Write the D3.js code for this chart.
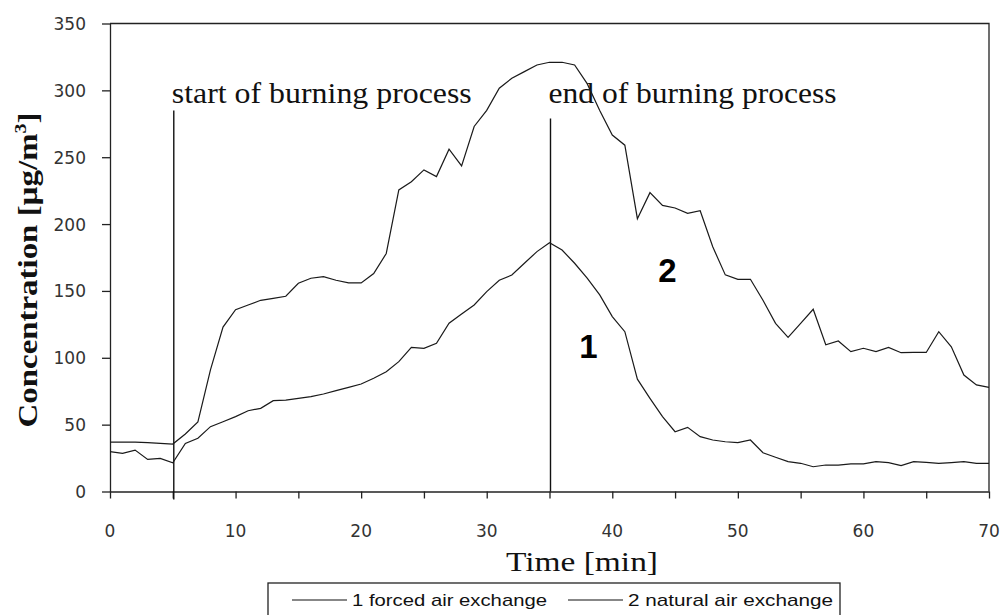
<!DOCTYPE html>
<html>
<head>
<meta charset="utf-8">
<script src="https://cdnjs.cloudflare.com/ajax/libs/d3/7.8.5/d3.min.js"></script>
<style>
	body { margin: 0; background: #fff; }
	svg { display: block; }
	.tick-label { font-family: 'DejaVu Sans', sans-serif; font-size: 17px; fill: #333; }
	.note { font-family: 'Liberation Serif', serif; font-size: 29px; fill: #111; }
</style>
</head>
<body>
<div id="chart"></div>
<script>
let width = 1001
let height = 615

// minutes 0..70
let minutes = d3.range(0, 71)

let forced = [
	29.8, 28.5, 31, 24, 24.8, 21.5, 36, 39.8, 48.5, 52.2,
	56, 60.4, 62.2, 67.9, 68.4, 69.7, 70.9, 72.9, 75.4, 77.9,
	80.4, 84.7, 89.6, 97.1, 107.8, 107.1, 110.8, 125.8, 132.8, 139.5,
	149.5, 158, 161.9, 170.7, 179.4, 186, 180.6, 170.7, 159.5, 147,
	130.8, 119.5, 84, 69.7, 56, 44.7, 48, 41, 38.5, 37.2,
	36.5, 38.5, 29, 25.6, 22.3, 21.1, 18.5, 19.8, 19.8, 20.6,
	20.6, 22.3, 21.6, 19.3, 22.3, 21.8, 21.1, 21.6, 22.3, 21.1,
	21.1
]

let natural = [
	37, 37, 37, 36.5, 36, 35.5, 43, 52, 91, 123,
	136, 139.5, 143, 144.5, 146, 155.7, 159.5, 160.7, 158, 156,
	156, 163, 178, 225.5, 231.7, 240.5, 235.5, 256, 243.5, 273,
	285, 301.6, 309, 314, 319, 321, 321, 319, 305, 285,
	266.6, 259, 204, 223.5, 214, 212, 208, 210, 183, 162,
	158.7, 158.7, 143, 125.8, 115.3, 125.8, 136.3, 109.7, 112.6, 104.6,
	107.1, 104.6, 107.8, 103.8, 104, 104, 119.5, 108.2, 87.1, 79.7,
	77.9
]

let yTicks = [0, 50, 100, 150, 200, 250, 300, 350]
let xTicks = [0, 5, 10, 15, 20, 25, 30, 35, 40, 45, 50, 55, 60, 65, 70]
let xLabels = [0, 10, 20, 30, 40, 50, 60, 70]

let events = [
	{ label: 'start of burning process', t: 5, top: 285 },
	{ label: 'end of burning process', t: 35, top: 279 },
]

let curveNames = [
	{ label: '1', t: 38.1, v: 100 },
	{ label: '2', t: 44.4, v: 156.5 },
]

let legendNames = ['1 forced air exchange', '2 natural air exchange']

let plot = {
	left : 110,
	right : 989,
	top : 23.5,
	bottom : 491.5,
}

let xScale = d3.scaleLinear()
	.domain([0, 70])
	.range([plot.left, plot.right])

let yScale = d3.scaleLinear()
	.domain([0, 350])
	.range([plot.bottom, plot.top])

let svg = d3.select('#chart').append('svg')
	.attr('width', width)
	.attr('height', height)

// frame (top + right)
svg.append('path')
	.attr('d', `M${plot.left},${plot.top}H${plot.right}V${plot.bottom}`)
	.attr('fill', 'none')
	.attr('stroke', '#222')
	.attr('stroke-width', 1.3)

let yAxis = d3.axisLeft(yScale)
	.tickValues(yTicks)
	.tickSize(8)
	.tickSizeOuter(0)
	.tickFormat('')

let xAxis = d3.axisBottom(xScale)
	.tickValues(xTicks)
	.tickSize(7)
	.tickSizeOuter(0)
	.tickFormat('')

svg.append('g')
	.attr('transform', `translate(${plot.left},0)`)
	.call(yAxis)
	.call(g => g.selectAll('path, line').attr('stroke', '#222').attr('stroke-width', 1.3))

svg.append('g')
	.attr('transform', `translate(0,${plot.bottom})`)
	.call(xAxis)
	.call(g => g.selectAll('path, line').attr('stroke', '#222').attr('stroke-width', 1.3))

// tick labels
svg.append('g').selectAll('text')
	.data(yTicks)
	.enter()
	.append('text')
	.attr('class', 'tick-label')
	.attr('text-anchor', 'end')
	.attr('x', 86)
	.attr('y', d => yScale(d) + 6.5)
	.text(d => d)

svg.append('g').selectAll('text')
	.data(xLabels)
	.enter()
	.append('text')
	.attr('class', 'tick-label')
	.attr('text-anchor', 'middle')
	.attr('x', d => xScale(d))
	.attr('y', 537)
	.text(d => d)

// axis titles
let yTitle = svg.append('text')
	.attr('transform', 'translate(37,270) rotate(-90)')
	.attr('text-anchor', 'middle')
	.attr('font-family', 'Liberation Serif, serif')
	.attr('font-weight', 'bold')
	.attr('font-size', 28)
	.attr('fill', '#111')
	.attr('textLength', 315)
	.attr('lengthAdjust', 'spacingAndGlyphs')
yTitle.append('tspan').text('Concentration [µg/m')
yTitle.append('tspan').attr('font-size', 17).attr('dy', -11).text('3')
yTitle.append('tspan').attr('dy', 11).text(']')

svg.append('text')
	.attr('x', 582)
	.attr('y', 571)
	.attr('text-anchor', 'middle')
	.attr('font-family', 'Liberation Serif, serif')
	.attr('font-size', 27)
	.attr('fill', '#111')
	.attr('textLength', 152)
	.attr('lengthAdjust', 'spacingAndGlyphs')
	.text('Time [min]')

// start / end of burning markers
let marks = svg.append('g')

marks.selectAll('line')
	.data(events)
	.enter()
	.append('line')
	.attr('x1', d => xScale(d.t) + 1)
	.attr('x2', d => xScale(d.t) + 1)
	.attr('y1', d => yScale(d.top))
	.attr('y2', (d, i) => i == 0 ? plot.bottom + 8 : plot.bottom)
	.attr('stroke', '#111')
	.attr('stroke-width', 1.4)

marks.selectAll('text')
	.data(events)
	.enter()
	.append('text')
	.attr('class', 'note')
	.attr('x', d => xScale(d.t) - 1)
	.attr('y', yScale(290.5))
	.attr('textLength', (d, i) => i == 0 ? 300 : 288)
	.attr('lengthAdjust', 'spacingAndGlyphs')
	.text(d => d.label)

// the two series
let line = d3.line()
	.x((d, i) => xScale(minutes[i]))
	.y(d => yScale(d))

svg.append('g').selectAll('path')
	.data([forced, natural])
	.enter()
	.append('path')
	.attr('d', line)
	.attr('fill', 'none')
	.attr('stroke', '#1a1a1a')
	.attr('stroke-width', 1.2)

svg.append('g').selectAll('text')
	.data(curveNames)
	.enter()
	.append('text')
	.attr('x', d => xScale(d.t))
	.attr('y', d => yScale(d.v))
	.attr('text-anchor', 'middle')
	.attr('font-family', 'Liberation Sans, Arial, sans-serif')
	.attr('font-weight', 'bold')
	.attr('font-size', 33)
	.attr('fill', '#000')
	.text(d => d.label)

// legend
let legend = svg.append('g')

legend.append('rect')
	.attr('x', 268)
	.attr('y', 583)
	.attr('width', 572)
	.attr('height', 50)
	.attr('fill', 'none')
	.attr('stroke', '#222')
	.attr('stroke-width', 1.3)

let legendX = [292, 568]
let legendW = [195, 205]

legendNames.forEach((name, i) => {
	legend.append('line')
		.attr('x1', legendX[i])
		.attr('x2', legendX[i] + 55)
		.attr('y1', 600)
		.attr('y2', 600)
		.attr('stroke', '#111')
		.attr('stroke-width', 1.2)
	legend.append('text')
		.attr('x', legendX[i] + 60)
		.attr('y', 605.5)
		.attr('font-family', 'Liberation Sans, Arial, sans-serif')
		.attr('font-size', 17)
		.attr('fill', '#111')
		.attr('textLength', legendW[i])
		.attr('lengthAdjust', 'spacingAndGlyphs')
		.text(name)
})
</script>
</body>
</html>
